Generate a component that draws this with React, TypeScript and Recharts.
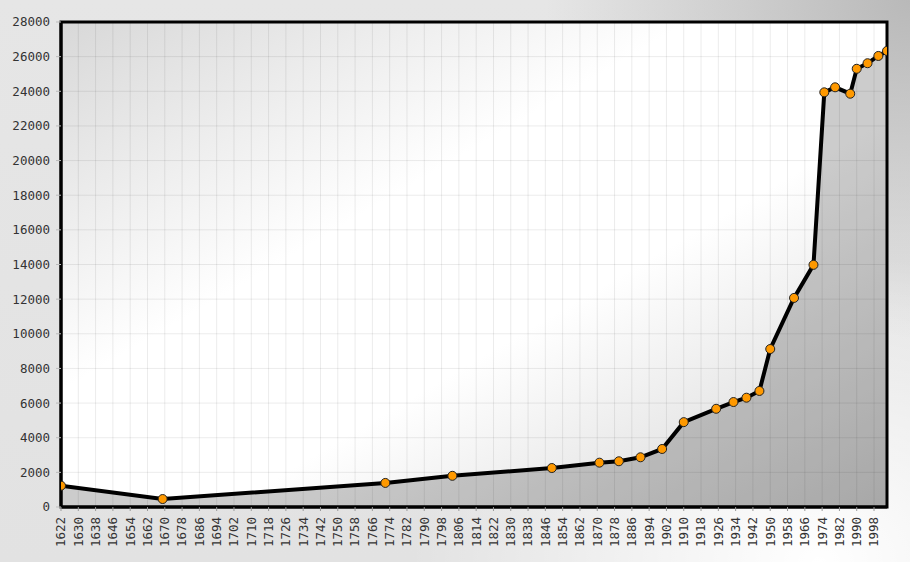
import React from "react";
import {
  ComposedChart,
  Area,
  XAxis,
  YAxis,
  CartesianGrid,
  ReferenceArea,
} from "recharts";

const years = [
  1622, 1669, 1772, 1803, 1849, 1871, 1880, 1890, 1900, 1910, 1925, 1933,
  1939, 1945, 1950, 1961, 1970, 1975, 1980, 1987, 1990, 1995, 2000, 2004,
];
const population = [
  1230, 460, 1390, 1800, 2250, 2560, 2640, 2870, 3350, 4900, 5670, 6060,
  6310, 6700, 9120, 12070, 13980, 23940, 24230, 23860, 25300, 25620, 26040,
  26330,
];
const xTicks = [
  1622, 1630, 1638, 1646, 1654, 1662, 1670, 1678, 1686, 1694, 1702, 1710,
  1718, 1726, 1734, 1742, 1750, 1758, 1766, 1774, 1782, 1790, 1798, 1806,
  1814, 1822, 1830, 1838, 1846, 1854, 1862, 1870, 1878, 1886, 1894, 1902,
  1910, 1918, 1926, 1934, 1942, 1950, 1958, 1966, 1974, 1982, 1990, 1998,
];
const yTicks = [
  0, 2000, 4000, 6000, 8000, 10000, 12000, 14000, 16000, 18000, 20000, 22000,
  24000, 26000, 28000,
];

const data = years.map((y, i) => ({ year: y, pop: population[i] }));

const FONT = "'DejaVu Sans Mono', monospace";

const XTick = (props: any) => {
  const { x, y, payload } = props;
  return (
    <text
      x={x}
      y={y}
      transform={`rotate(-90 ${x} ${y})`}
      textAnchor="end"
      dy="0.35em"
      fill="#333"
      fontSize={12.5}
      fontFamily={FONT}
    >
      {payload.value}
    </text>
  );
};

export default function App() {
  return (
    <div
      style={{
        position: "absolute",
        left: 0,
        top: 0,
        width: 910,
        height: 562,
        overflow: "hidden",
        background:
          "radial-gradient(ellipse 45% 55% at 90% 100%, rgba(255,255,255,1) 0%, rgba(255,255,255,0) 100%), radial-gradient(ellipse 40% 60% at 100% 0%, rgba(185,185,185,1) 0%, rgba(185,185,185,0) 100%), linear-gradient(180deg, #e6e6e6 0%, #e2e2e2 100%)",
      }}
    >
      <svg width={0} height={0} style={{ position: "absolute" }}>
        <defs>
          <linearGradient id="plotBg" x1="0" y1="0" x2="1" y2="1">
            <stop offset="0" stopColor="#d8d8d8" />
            <stop offset="0.38" stopColor="#ffffff" />
            <stop offset="0.6" stopColor="#ffffff" />
            <stop offset="1" stopColor="#d2d2d2" />
          </linearGradient>
        </defs>
      </svg>
      <ComposedChart
        width={910}
        height={562}
        data={data}
        margin={{ top: 22, right: 23, left: 0, bottom: 0 }}
      >
        <CartesianGrid
          fill="url(#plotBg)"
          stroke="rgba(0,0,0,0.08)"
          strokeWidth={1}
        />
        <XAxis
          dataKey="year"
          type="number"
          domain={[1622, 2004]}
          ticks={xTicks}
          interval={0}
          allowDataOverflow
          height={55}
          tick={<XTick />}
          tickSize={4}
          tickMargin={6}
          tickLine={{ stroke: "#999" }}
          axisLine={{ stroke: "#000", strokeWidth: 3 }}
        />
        <YAxis
          type="number"
          domain={[0, 28000]}
          ticks={yTicks}
          interval={0}
          width={61}
          tickSize={5}
          tickMargin={6}
          tickLine={{ stroke: "#bbb" }}
          axisLine={{ stroke: "#000", strokeWidth: 3 }}
          tick={{ fill: "#333", fontSize: 12.5, fontFamily: FONT }}
        />
        <ReferenceArea
          x1={1622}
          x2={2004}
          y1={0}
          y2={28000}
          fill="none"
          stroke="#000"
          strokeWidth={3}
          ifOverflow="visible"
        />
        <Area
          type="linear"
          dataKey="pop"
          stroke="#000"
          strokeWidth={4}
          fill="#000"
          fillOpacity={0.2}
          isAnimationActive={false}
          dot={{ r: 4.5, fill: "#ff9900", stroke: "#222", strokeWidth: 1, fillOpacity: 1 }}
          activeDot={false}
        />
      </ComposedChart>
    </div>
  );
}
